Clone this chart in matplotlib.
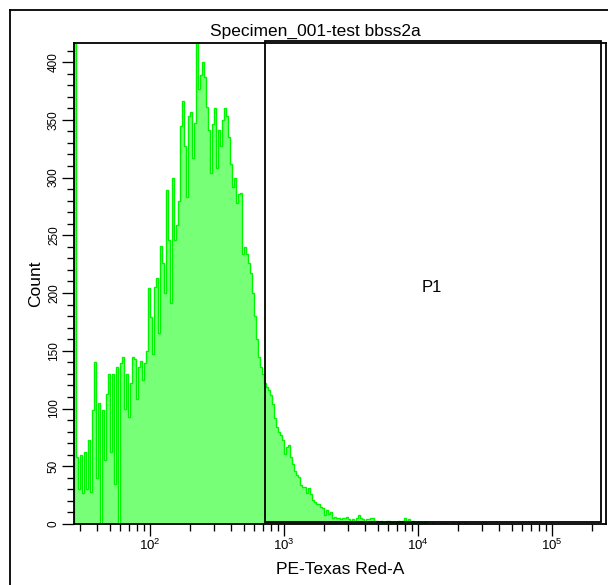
import numpy as np
import matplotlib
matplotlib.use("Agg")
import matplotlib.pyplot as plt
from matplotlib.lines import Line2D
from matplotlib.patches import Rectangle
from matplotlib.ticker import LogLocator, MultipleLocator, NullFormatter

plt.rcParams['font.family'] = ['Liberation Sans', 'DejaVu Sans']
plt.rcParams['mathtext.fontset'] = 'custom'
plt.rcParams['mathtext.rm'] = 'Liberation Sans'
plt.rcParams['mathtext.default'] = 'regular'

title = "Specimen_001-test bbss2a"
x_label = "PE-Texas Red-A"
y_label = "Count"
gate_name = "P1"

# histogram channels (log spaced), counts
bin_lo = 1.433      # log10 of first bin edge
bin_step = 0.01493  # decades per bin
counts = [
    500, 58, 30, 60, 27, 62, 30, 73, 28, 99, 140, 40, 105, 0, 99, 55, 113, 130, 62, 130,
    35, 136, 0, 139, 145, 100, 130, 93, 122, 145, 143, 108, 136, 141, 125, 139, 150, 204, 179, 147,
    205, 213, 165, 241, 226, 200, 289, 246, 191, 300, 246, 259, 280, 345, 366, 327, 283, 353, 357, 317,
    347, 500, 377, 389, 400, 387, 361, 341, 304, 346, 360, 308, 341, 327, 350, 360, 353, 335, 312, 292,
    300, 278, 286, 287, 234, 240, 234, 226, 217, 200, 180, 160, 145, 136, 130, 122, 119, 116, 112, 104,
    92, 84, 80, 77, 73, 61, 67, 68, 58, 52, 46, 42, 41, 34, 32, 32, 27, 31, 26, 21,
    19, 17, 17, 15, 14, 8, 12, 9, 10, 5, 6, 5, 5, 4, 5, 5, 6, 4, 3, 4,
    3, 5, 8, 5, 4, 3, 4, 4, 5, 5, 3, 3, 2, 3, 2, 2, 3, 3, 2, 2,
    1, 2, 3, 2, 3, 5, 3, 4, 2, 3, 1, 2, 1, 2, 1, 2, 1, 0, 0, 1,
    0, 0, 0, 1, 0, 1, 0, 0, 0, 1, 0, 0, 1, 0, 0, 1, 0, 0, 0, 0,
    0, 0, 0, 0, 0, 1, 0,
]

x_min, x_max = 27.1, 2.53e5
y_max = 416.5
gate_x = [721, 2.32e5]
gate_label_pos = (12700, 205)

edges = 10 ** (bin_lo + bin_step * np.arange(len(counts) + 1))

fig = plt.figure(figsize=(6.08, 5.85), dpi=100)
ax = fig.add_axes([74 / 608, 61 / 585, 532 / 608, 481 / 585])

ax.stairs(counts, edges, fill=True, color='#77ff77', lw=0)
ax.stairs(counts, edges, color='#00f500', lw=1.0)

ax.set_xscale('log')
ax.set_xlim(x_min, x_max)
ax.set_ylim(0, y_max)

# gate P1
ax.add_patch(Rectangle((gate_x[0], 1.5), gate_x[1] - gate_x[0], y_max,
                       fill=False, edgecolor='black', lw=1.3, clip_on=False))
ax.text(gate_label_pos[0], gate_label_pos[1], gate_name, fontsize=12,
        ha='center', va='center')

ax.xaxis.set_major_locator(LogLocator(base=10, numticks=10))
ax.xaxis.set_minor_locator(LogLocator(base=10, subs=np.arange(2, 10), numticks=20))
ax.xaxis.set_minor_formatter(NullFormatter())
ax.yaxis.set_major_locator(MultipleLocator(50))
ax.yaxis.set_minor_locator(MultipleLocator(10))

ax.tick_params(which='major', direction='out', length=8.6, width=0.95, color='black')
ax.tick_params(which='minor', direction='out', length=5, width=0.95, color='black')
ax.tick_params(axis='x', labelsize=9.5, pad=1)
ax.tick_params(axis='y', labelsize=8.5, pad=1.5, labelrotation=90)
for lab in ax.get_yticklabels():
    lab.set_va('center')

for sp in ax.spines.values():
    sp.set_linewidth(1.3)
    sp.set_color('black')

ax.set_xlabel(x_label, fontsize=12.5)
ax.xaxis.set_label_coords(0.5, -(570 - 524) / 481)
ax.xaxis.label.set_va('center')
ax.set_ylabel(y_label, fontsize=12.5)
ax.yaxis.set_label_coords(-(74 - 36) / 532, 0.5)
ax.yaxis.label.set_va('center')

fig.text(315 / 608, 1 - 31 / 585, title, fontsize=12.5, ha='center', va='center')

# outer frame (left and top edges visible)
fig.add_artist(Line2D([10 / 608, 10 / 608], [0, 1 - 10 / 585], color='black', lw=1.3))
fig.add_artist(Line2D([10 / 608, 1], [1 - 10 / 585, 1 - 10 / 585], color='black', lw=1.3))

fig.savefig('out.png', dpi=100)
